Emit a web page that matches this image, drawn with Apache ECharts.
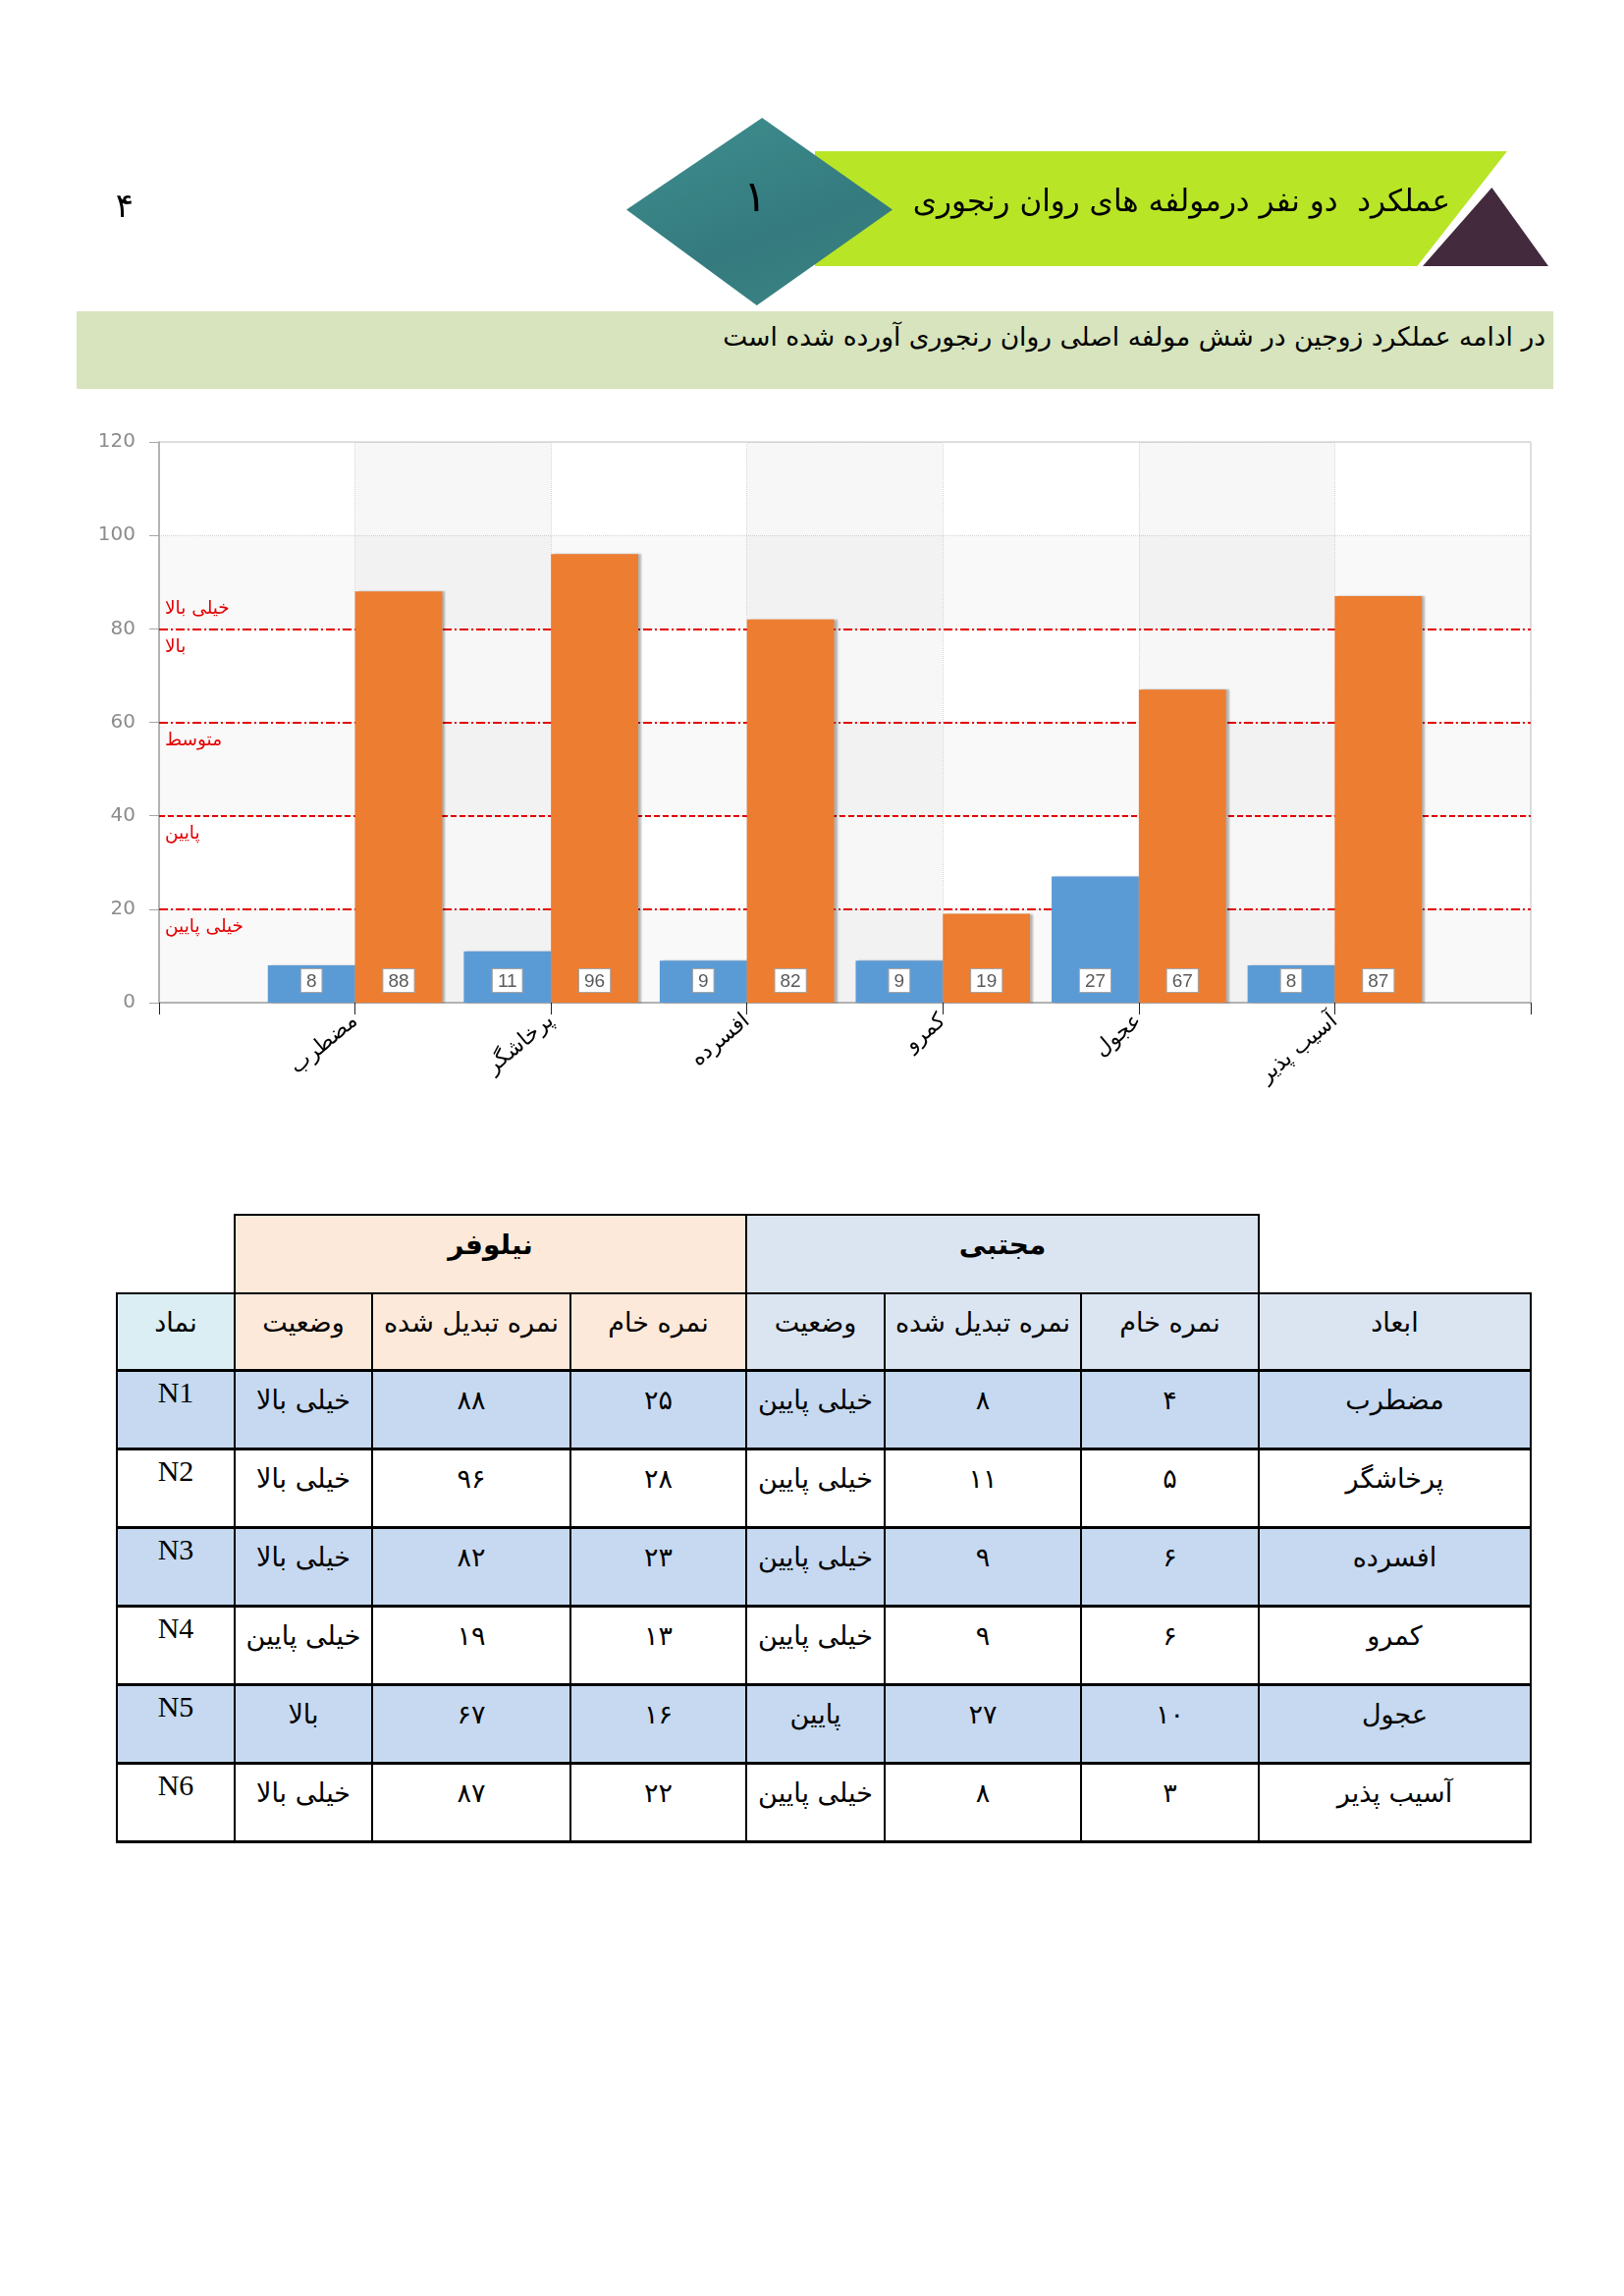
<!DOCTYPE html>
<html>
<head>
  <meta charset="utf-8">
  <title>عملکرد دو نفر درمولفه های روان رنجوری</title>
  <script src="https://cdn.jsdelivr.net/npm/echarts@6/dist/echarts.min.js"></script>
  <style>
    body { margin: 0; background: #fff; font-family: 'DejaVu Sans', sans-serif; }
    #page { position: relative; width: 1654px; height: 2338px; overflow: hidden; }
    .abs { position: absolute; }
    #main { left: 0; top: 0; width: 1654px; height: 1180px; }
    #pageNo { left: 107px; top: 189px; width: 40px; text-align: center; font-size: 34px; }
    #banner { left: 830px; top: 154px; width: 705px; height: 117px; background: #b8e526;
      clip-path: polygon(0 0, 100% 0, 87% 100%, 0 100%); }
    #tri { left: 1449px; top: 191px; width: 128px; height: 80px; background: #432a3d;
      clip-path: polygon(55% 0, 100% 100%, 0 100%); }
    #diamond { left: 638px; top: 120px; width: 271px; height: 191px;
      background: linear-gradient(160deg, #3f8f8f, #347a7e 60%, #3c8585);
      clip-path: polygon(51% 0, 100% 49%, 49% 100%, 0 49%); }
    #diamondNo { left: 734px; top: 174px; width: 70px; text-align: center; font-size: 44px; }
    #title { left: 870px; top: 186px; width: 607px; text-align: right; direction: rtl; font-size: 31px; }
    #strip { left: 78px; top: 317px; width: 1504px; height: 79px; background: #d7e4bd; }
    #stripText { left: 78px; top: 327px; width: 1496px; text-align: right; direction: rtl; font-size: 26.5px; }
    #tbl { left: 118px; top: 1236px; border-collapse: collapse; table-layout: fixed; direction: rtl;
      font-size: 27px; }
    #tbl td { border: 2px solid #000; text-align: center; vertical-align: middle; padding: 0 0 20px 0;
      white-space: nowrap; overflow: hidden; }
    #tbl tr.data td { border-top-width: 3px; border-bottom-width: 3px; }
    #tbl tr.head1 td { height: 58px; font-weight: bold; font-size: 28px; }
    #tbl tr.head2 td { height: 56px; }
    #tbl tr.data td { height: 57px; }
    #tbl td.blank { border: none; background: transparent; }
    #tbl td.sym { font-family: 'Liberation Serif', serif; font-size: 30px; vertical-align: top; padding: 4px 0 0 0; }
  </style>
</head>
<body>
<div id="page">
  <div id="main" class="abs"></div>
  <div id="pageNo" class="abs">۴</div>
  <div id="banner" class="abs"></div>
  <div id="tri" class="abs"></div>
  <div id="diamond" class="abs"></div>
  <div id="diamondNo" class="abs">۱</div>
  <div id="title" class="abs">عملکرد&nbsp; دو نفر درمولفه های روان رنجوری</div>
  <div id="strip" class="abs"></div>
  <div id="stripText" class="abs">در ادامه عملکرد زوجین در شش مولفه اصلی روان رنجوری آورده شده است</div>
  <table id="tbl" class="abs"></table>
</div>

<script>
  // ابعاد
  const dims = ['مضطرب', 'پرخاشگر', 'افسرده', 'کمرو', 'عجول', 'آسیب پذیر'];
  const symbols = ['N1', 'N2', 'N3', 'N4', 'N5', 'N6'];
  // مجتبی
  const mojtabaRaw = [4, 5, 6, 6, 10, 3];
  const mojtabaScore = [8, 11, 9, 9, 27, 8];
  const mojtabaStatus = ['خیلی پایین', 'خیلی پایین', 'خیلی پایین', 'خیلی پایین', 'پایین', 'خیلی پایین'];
  // نیلوفر
  const niloofarRaw = [25, 28, 23, 13, 16, 22];
  const niloofarScore = [88, 96, 82, 19, 67, 87];
  const niloofarStatus = ['خیلی بالا', 'خیلی بالا', 'خیلی بالا', 'خیلی پایین', 'بالا', 'خیلی بالا'];
  // سطوح
  const levelValues = [80, 80, 60, 40, 20];
  const levelNames = ['خیلی بالا', 'بالا', 'متوسط', 'پایین', 'خیلی پایین'];
  const yTicks = [0, 20, 40, 60, 80, 100, 120];

  const fa = n => String(n).replace(/\d/g, d => '۰۱۲۳۴۵۶۷۸۹'[d]);

  // empty slots at both ends so the bar pairs sit on the ticks
  const cats = [''].concat(dims, ['']);
  const pad = arr => [null].concat(arr, [null]);

  const chart = echarts.init(document.getElementById('main'));
  const dashDot = [9, 3, 2, 3];
  const barLabel = {
    show: true, position: 'insideBottom', distance: 11,
    backgroundColor: '#fff', borderColor: '#a6a6a6', borderWidth: 1,
    padding: [3, 5, 1, 5], color: '#595959', fontSize: 19, fontFamily: 'Liberation Sans'
  };
  const shadow = { shadowColor: 'rgba(0,0,0,0.28)', shadowBlur: 2, shadowOffsetX: 3 };

  chart.setOption({
    animation: false,
    grid: { left: 162, top: 450, width: 1397, height: 571, show: true, borderColor: '#c4c4c4', borderWidth: 1 },
    xAxis: {
      type: 'category', data: cats, boundaryGap: false,
      axisLine: { lineStyle: { color: '#a6a6a6', width: 1.5 } },
      axisTick: { show: true, length: 12, interval: 0, lineStyle: { color: '#222' } },
      axisLabel: { interval: 0, rotate: 40, margin: 16, fontSize: 22, color: '#000', fontFamily: 'DejaVu Sans' },
      splitLine: { show: true, interval: 0, lineStyle: { color: '#d4d4d4', type: 'dotted' } },
      splitArea: { show: true, interval: 0, areaStyle: { color: ['rgba(0,0,0,0)', 'rgba(0,0,0,0.03)'] } }
    },
    yAxis: {
      type: 'value', min: yTicks[0], max: yTicks[yTicks.length - 1], interval: 20,
      axisLine: { show: true, lineStyle: { color: '#a6a6a6', width: 1.5 } },
      axisTick: { show: true, length: 10, lineStyle: { color: '#a6a6a6' } },
      axisLabel: { fontSize: 20, color: '#8c8c8c', margin: 24, fontFamily: 'DejaVu Sans' },
      splitLine: { show: true, lineStyle: { color: '#d4d4d4', type: 'dotted' } },
      splitArea: { show: true, areaStyle: { color: ['rgba(0,0,0,0.025)', 'rgba(0,0,0,0)'] } }
    },
    series: [
      {
        name: 'مجتبی', type: 'bar', data: pad(mojtabaScore), z: 3,
        barGap: '0%', barCategoryGap: '11%',
        itemStyle: Object.assign({ color: '#5b9bd5' }, shadow),
        label: barLabel
      },
      {
        name: 'نیلوفر', type: 'bar', data: pad(niloofarScore), z: 3,
        itemStyle: Object.assign({ color: '#ed7d31' }, shadow),
        label: barLabel
      },
      {
        name: 'levels', type: 'line', data: cats.map(() => null), z: 1, silent: true,
        markLine: {
          z: 1, silent: true, symbol: 'none', animation: false,
          data: levelValues.map((v, i) => ({
            yAxis: v,
            lineStyle: { color: '#e30000', width: 2, type: v === 40 ? [6, 3] : dashDot },
            label: {
              show: true, formatter: levelNames[i],
              position: i === 0 ? 'insideStartTop' : 'insideStartBottom',
              distance: [6, i === 0 ? 11 : 9],
              color: '#e30000', fontSize: 18.5, fontFamily: 'DejaVu Sans'
            }
          }))
        }
      }
    ]
  });

  // table built from the same arrays
  const tbl = document.getElementById('tbl');
  const colW = [277, 181, 200, 141, 179, 202, 140, 120]; // right to left
  let html = '<colgroup>' + colW.map(w => '<col style="width:' + w + 'px">').join('') + '</colgroup>';
  html += '<tr class="head1"><td class="blank"></td>' +
    '<td colspan="3" style="background:#dbe5f1">مجتبی</td>' +
    '<td colspan="3" style="background:#fde9d9">نیلوفر</td><td class="blank"></td></tr>';
  const blueH = 'background:#dbe5f1', peachH = 'background:#fde9d9';
  html += '<tr class="head2">' +
    '<td style="' + blueH + '">ابعاد</td>' +
    '<td style="' + blueH + '">نمره خام</td>' +
    '<td style="' + blueH + '">نمره تبدیل شده</td>' +
    '<td style="' + blueH + '">وضعیت</td>' +
    '<td style="' + peachH + '">نمره خام</td>' +
    '<td style="' + peachH + '">نمره تبدیل شده</td>' +
    '<td style="' + peachH + '">وضعیت</td>' +
    '<td style="background:#daeef3">نماد</td></tr>';
  dims.forEach((d, i) => {
    const bg = i % 2 === 0 ? '#c6d9f0' : '#fff';
    const cells = [d, fa(mojtabaRaw[i]), fa(mojtabaScore[i]), mojtabaStatus[i],
      fa(niloofarRaw[i]), fa(niloofarScore[i]), niloofarStatus[i]];
    html += '<tr class="data" style="background:' + bg + '">' +
      cells.map(c => '<td>' + c + '</td>').join('') +
      '<td class="sym">' + symbols[i] + '</td></tr>';
  });
  tbl.innerHTML = html;
</script>
</body>
</html>
